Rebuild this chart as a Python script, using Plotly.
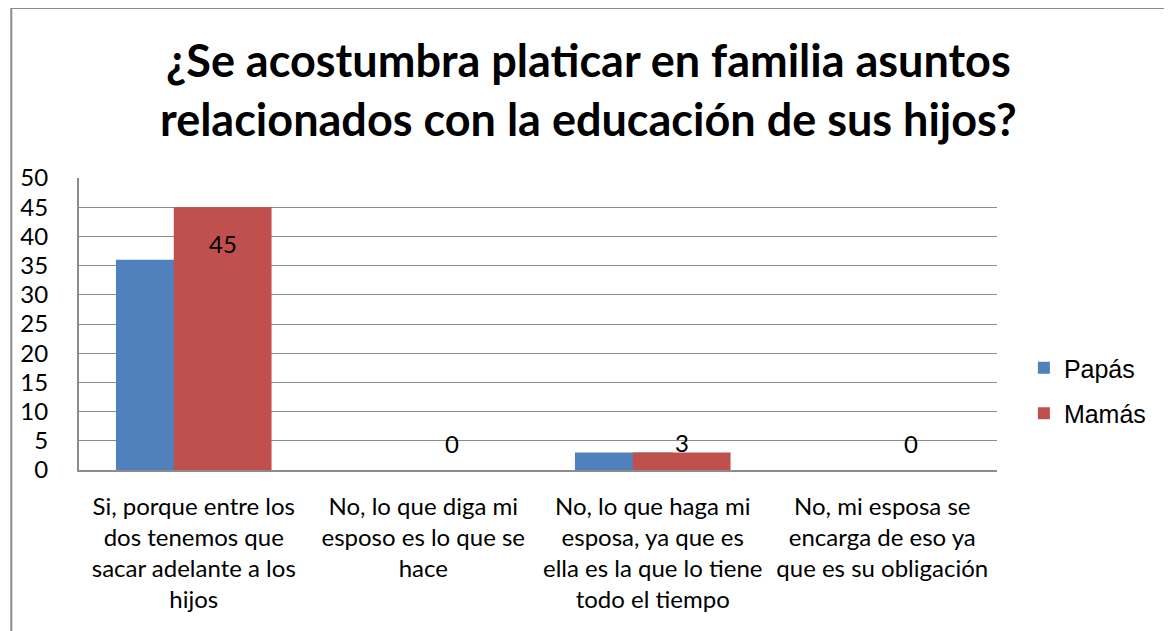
import plotly.graph_objects as go

categories = [
    "Si, porque entre los dos tenemos que sacar adelante a los hijos",
    "No, lo que diga mi esposo es lo que se hace",
    "No, lo que haga mi esposa, ya que es ella es la que lo tiene todo el tiempo",
    "No, mi esposa se encarga de eso ya que es su obligación",
]
tick_labels = [
    "Si, porque entre los<br>dos tenemos que<br>sacar adelante a los<br>hijos",
    "No, lo que diga mi<br>esposo es lo que se<br>hace<br> ",
    "No, lo que haga mi<br>esposa, ya que es<br>ella es la que lo tiene<br>todo el tiempo",
    "No, mi esposa se<br>encarga de eso ya<br>que es su obligación<br> ",
]
papas = [36, 0, 3, 0]
mamas = [45, 0, 3, 0]
series_names = ["Papás", "Mamás"]
title_text = "¿Se acostumbra platicar en familia asuntos<br>relacionados con la educación de sus hijos?"

FONT = "Lato, 'Open Sans', sans-serif"
BLUE = "#4F81BD"
RED = "#C0504D"
GRID = "#8C8C8C"

# page body offset; work in page pixel coords and subtract it
OFSX, OFSY = 9, 8
W, H = 1172 - 8, 631 - 8
PL, PR, PT, PB = 76, 998, 178, 470  # plot area in page pixels
ML, MT = PL - OFSX, PT - OFSY
MR = W - (PR - OFSX)
MB = H - (PB - OFSY)
PW = PR - PL
PH = PB - PT

BAR_W = 0.426
OFF_P = -0.339
OFF_M = -0.087

xpos = list(range(len(categories)))

fig = go.Figure()
fig.add_trace(go.Bar(
    x=xpos, y=papas, name=series_names[0], marker_color=BLUE,
    marker_line_width=0, width=BAR_W, offset=OFF_P, legendgroup="p",
))
fig.add_trace(go.Bar(
    x=xpos, y=mamas, name=series_names[1], marker_color=RED,
    marker_line_width=0, width=BAR_W, offset=OFF_M, legendgroup="m",
))

annotations = []
for i, v in enumerate(mamas):
    cx = i + OFF_M + BAR_W / 2
    if v > 10:
        annotations.append(dict(x=cx, y=v, xref="x", yref="y", text=str(v),
                                showarrow=False, yanchor="top", yshift=-20,
                                font=dict(family=FONT, size=24, color="#000")))
    else:
        annotations.append(dict(x=cx, y=v, xref="x", yref="y", text=str(v),
                                showarrow=False, yanchor="bottom",
                                yshift=(10 if v == 0 else -7),
                                font=dict(family=FONT, size=24, color="#000")))

def py(page_y):
    return (PB - page_y) / PH

annotations.append(dict(
    x=(588 - PL) / PW, xref="paper", y=py(89), yref="paper",
    text="<b>" + title_text + "</b>", showarrow=False,
    xanchor="center", yanchor="middle",
    font=dict(family=FONT, size=45, color="#000"),
))

shapes = [
    dict(type="rect", xref="paper", yref="paper",
         x0=(8 - PL) / PW, x1=1.4, y0=-0.8, y1=py(8),
         line=dict(color="#8C8C8C", width=2), fillcolor="rgba(0,0,0,0)", layer="below"),
]

fig.update_layout(
    width=W, height=H,
    margin=dict(l=ML, r=MR, t=MT, b=MB, pad=0),
    paper_bgcolor="white", plot_bgcolor="white",
    barmode="overlay",
    showlegend=True,
    legend=dict(x=(1025 - PL) / PW, y=py(345), xanchor="left", yanchor="top",
                font=dict(family="'Liberation Sans', Arial, sans-serif", size=25, color="#000"),
                tracegroupgap=10, itemwidth=30, bgcolor="rgba(0,0,0,0)"),
    annotations=annotations,
    shapes=shapes,
    xaxis=dict(
        range=[-0.5, len(categories) - 0.5],
        tickvals=xpos, ticktext=tick_labels,
        showgrid=False, zeroline=False,
        showline=True, linecolor=GRID, linewidth=2,
        ticks="", ticklabelstandoff=14,
        tickfont=dict(family=FONT, size=24, color="#000"),
        tickangle=0, fixedrange=True,
    ),
    yaxis=dict(
        range=[0, 50], dtick=5, tick0=0,
        showgrid=True, gridcolor=GRID, gridwidth=1,
        zeroline=False, showline=True, linecolor=GRID, linewidth=2,
        ticks="", ticklabelstandoff=24,
        tickfont=dict(family=FONT, size=24, color="#000"),
        fixedrange=True,
    ),
)

fig.write_html("out.html")
